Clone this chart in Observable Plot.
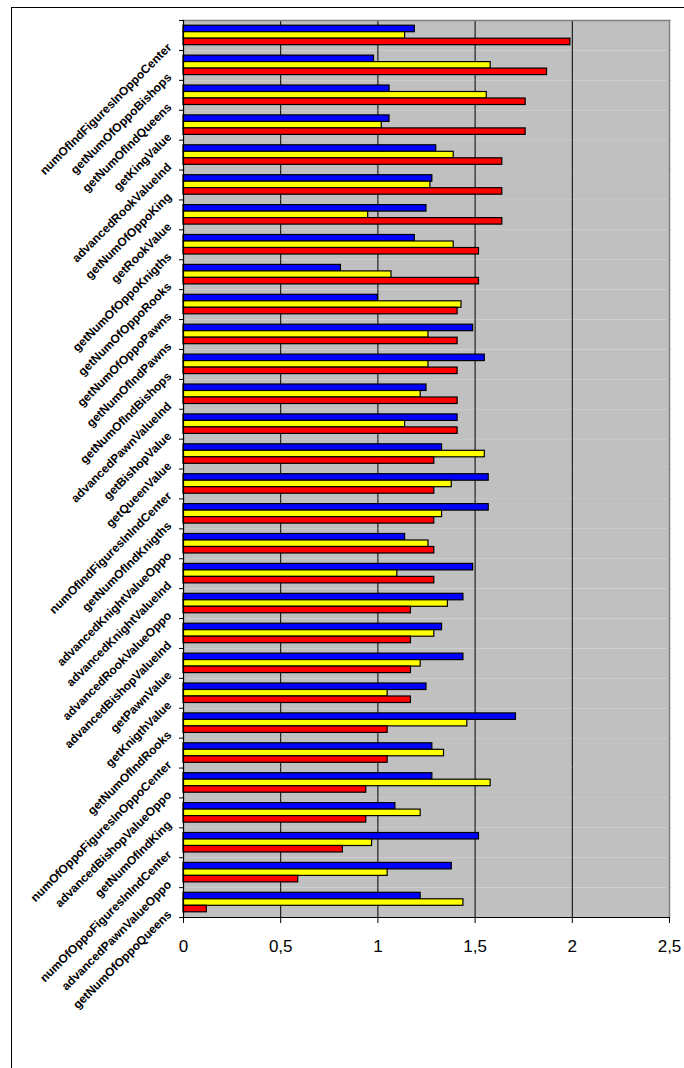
<!DOCTYPE html>
<html>
<head>
<meta charset="utf-8">
<script src="https://cdn.jsdelivr.net/npm/d3@7"></script>
<script src="https://cdn.jsdelivr.net/npm/@observablehq/plot@0.6"></script>
<style>
  html, body { margin: 0; padding: 0; background: #fff; overflow: hidden; width: 684px; height: 1068px; }
  #frame { position: absolute; left: 11px; top: 7px; width: 720px; height: 1100px;
           border-left: 1.5px solid #000; border-top: 1.5px solid #000; }
  #chart { position: absolute; left: 0; top: 0; }
</style>
</head>
<body>
<div id="frame"></div>
<div id="chart"></div>
<script>
const categories = [
  "numOfIndFiguresInOppoCenter",
  "getNumOfOppoBishops",
  "getNumOfIndQueens",
  "getKingValue",
  "advancedRookValueInd",
  "getNumOfOppoKing",
  "getRookValue",
  "getNumOfOppoKnigths",
  "getNumOfOppoRooks",
  "getNumOfOppoPawns",
  "getNumOfIndPawns",
  "getNumOfIndBishops",
  "advancedPawnValueInd",
  "getBishopValue",
  "getQueenValue",
  "numOfIndFiguresInIndCenter",
  "getNumOfIndKnigths",
  "advancedKnightValueOppo",
  "advancedKnightValueInd",
  "advancedRookValueOppo",
  "advancedBishopValueInd",
  "getPawnValue",
  "getKnigthValue",
  "getNumOfIndRooks",
  "numOfOppoFiguresInOppoCenter",
  "advancedBishopValueOppo",
  "getNumOfIndKing",
  "numOfOppoFiguresInIndCenter",
  "advancedPawnValueOppo",
  "getNumOfOppoQueens"
];
const blueValues = [1.19, 0.98, 1.06, 1.06, 1.30, 1.28, 1.25, 1.19, 0.81, 1.00,
                    1.49, 1.55, 1.25, 1.41, 1.33, 1.57, 1.57, 1.14, 1.49, 1.44,
                    1.33, 1.44, 1.25, 1.71, 1.28, 1.28, 1.09, 1.52, 1.38, 1.22];
const yellowValues = [1.14, 1.58, 1.56, 1.02, 1.39, 1.27, 0.95, 1.39, 1.07, 1.43,
                      1.26, 1.26, 1.22, 1.14, 1.55, 1.38, 1.33, 1.26, 1.10, 1.36,
                      1.29, 1.22, 1.05, 1.46, 1.34, 1.58, 1.22, 0.97, 1.05, 1.44];
const redValues = [1.99, 1.87, 1.76, 1.76, 1.64, 1.64, 1.64, 1.52, 1.52, 1.41,
                   1.41, 1.41, 1.41, 1.41, 1.29, 1.29, 1.29, 1.29, 1.29, 1.17,
                   1.17, 1.17, 1.17, 1.05, 1.05, 0.94, 0.94, 0.82, 0.59, 0.12];
const seriesNames = ["Series 1", "Series 2", "Series 3"];
const seriesColors = ["#0000ff", "#ffff00", "#ff0000"];
const xTicks = [0, 0.5, 1, 1.5, 2, 2.5];
const gridTicks = [0.5, 1, 1.5, 2];

const data = categories.flatMap((c, i) => [
  {category: c, series: seriesNames[0], value: blueValues[i]},
  {category: c, series: seriesNames[1], value: yellowValues[i]},
  {category: c, series: seriesNames[2], value: redValues[i]}
]);

const chart = Plot.plot({
  width: 684,
  height: 975,
  marginLeft: 183,
  marginRight: 15,
  marginTop: 20,
  marginBottom: 58,
  style: {fontFamily: "'Liberation Sans', Arial, sans-serif", background: "transparent", overflow: "visible"},
  x: {domain: [0, 2.5], ticks: xTicks, label: null},
  y: {domain: seriesNames, axis: null, paddingInner: 0, paddingOuter: 0.8, round: false},
  fy: {domain: categories, padding: 0, round: false, label: null},
  color: {domain: seriesNames, range: seriesColors},
  marks: [
    Plot.frame({fill: "#c0c0c0", stroke: null}),
    Plot.gridX({ticks: gridTicks, stroke: "#000", strokeOpacity: 1, strokeWidth: 1}),
    Plot.frame({anchor: "right", stroke: "#808080", strokeWidth: 1.5}),
    Plot.frame({anchor: "top", facetAnchor: "top", stroke: "#808080", strokeWidth: 1.5}),
    Plot.barX(data, {x: "value", y: "series", fy: "category", fill: "series", stroke: "#000", strokeWidth: 1.2}),
    Plot.frame({anchor: "left", stroke: "#000", strokeWidth: 1.2}),
    Plot.frame({anchor: "bottom", facetAnchor: "bottom", stroke: "#000", strokeWidth: 1.2}),
    Plot.axisX({anchor: "bottom", ticks: xTicks, tickSize: 6, tickPadding: 16, label: null,
      tickFormat: d => String(d).replace(".", ","), fontSize: 17, stroke: "#000"}),
    Plot.axisFy({anchor: "left", text: null, tickSize: 4, dy: 15, stroke: "#000", label: null}),
    Plot.axisFy({anchor: "left", ticks: [categories[0]], text: null, tickSize: 4, dy: -15, stroke: "#000", label: null}),
    Plot.axisFy({anchor: "left", tickSize: 0, tickPadding: 14, tickRotate: -45, dy: 10,
      fontSize: 12, fontWeight: "bold", fill: "#000", label: null})
  ]
});
document.getElementById("chart").appendChild(chart);
</script>
</body>
</html>
